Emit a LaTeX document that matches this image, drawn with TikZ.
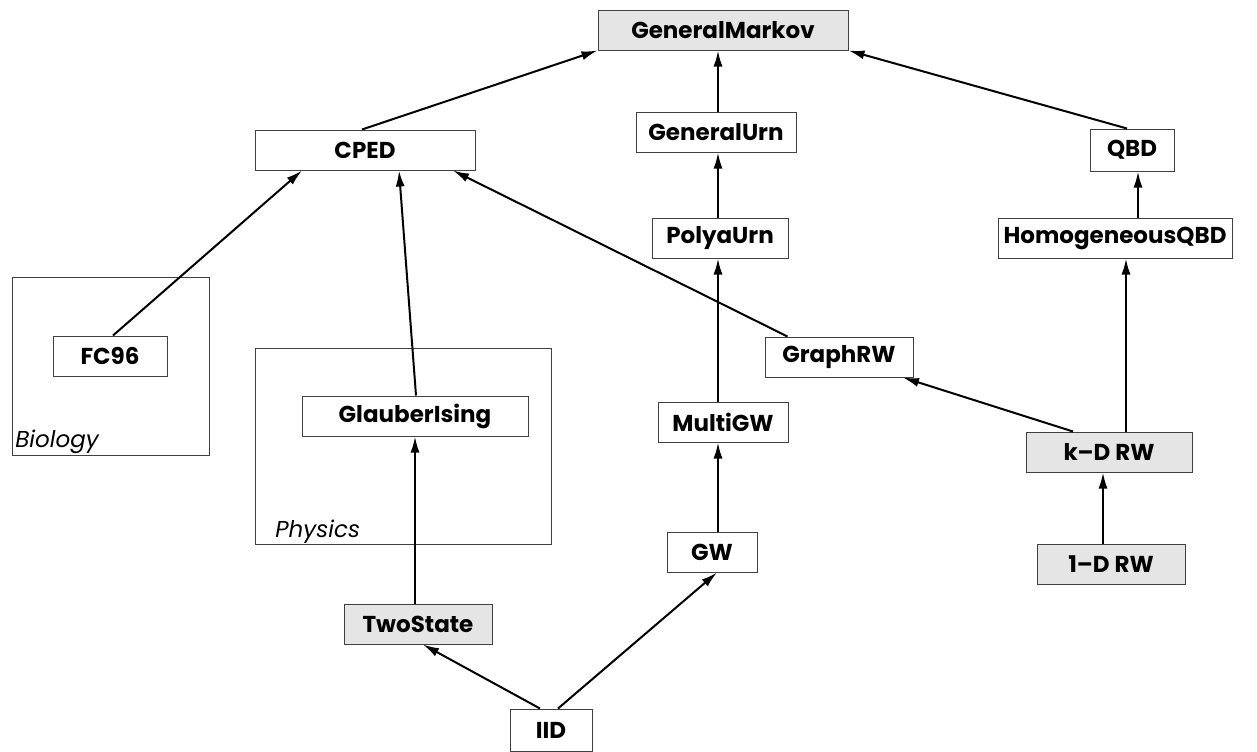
\documentclass[tikz,border=0pt]{standalone}
\usepackage{fontspec}
\setmainfont{Poppins}
\usetikzlibrary{arrows.meta,calc}

\begin{document}
\begin{tikzpicture}[x=0.5pt,y=-0.5pt,
	model/.style={draw=black!75, line width=0.5pt, minimum height=20pt, inner sep=0pt, font=\fontsize{11.5}{13}\selectfont\bfseries},
	basic/.style={model, fill=black!10},
	group/.style={draw=black!75, line width=0.5pt},
	grouplabel/.style={anchor=base west, inner sep=0pt, font=\fontsize{11.5}{13}\selectfont\itshape},
	link/.style={-{Latex[length=8pt,width=4.5pt]}, line width=1pt}]
	\useasboundingbox (0,0) rectangle (1257,751);
	
	% groups
	\draw[group] (12,277) rectangle (209,455);
	\draw[group] (255,348) rectangle (551,544);
	\node[grouplabel] (bio) at (15,447) {Biology};
	\node[grouplabel] (phys) at (275,537) {Physics};
	
	% models
	\node[basic, minimum width=125pt] (gm) at (723,30) {GeneralMarkov};
	\node[model, minimum width=110pt] (cped) at (365,150) {CPED};
	\node[model, minimum width=80pt] (gurn) at (716,132) {GeneralUrn};
	\node[model, minimum width=42pt, minimum height=21pt] (qbd) at (1132,150) {QBD};
	\node[model, minimum width=68pt] (polya) at (720,238) {PolyaUrn};
	\node[model, minimum width=117pt] (hqbd) at (1115,238) {HomogeneousQBD};
	\node[model, minimum width=57pt] (fc) at (110,356) {FC96};
	\node[model, minimum width=113pt] (glauber) at (415,416) {GlauberIsing};
	\node[model, minimum width=74pt] (graphrw) at (839,357) {GraphRW};
	\node[model, minimum width=65pt] (multigw) at (723,422) {MultiGW};
	\node[basic, minimum width=83pt] (kdrw) at (1109,452) {k--D RW};
	\node[basic, minimum width=74pt] (odrw) at (1111,564) {1--D RW};
	\node[model, minimum width=45pt] (gw) at (712,552) {GW};
	\node[basic, minimum width=74pt] (twostate) at (418,624) {TwoState};
	\node[model, minimum width=41pt, minimum height=21pt] (iid) at (551,730) {IID};
	
	% links
	\draw[link] ($(cped.north)+(-3,0)$) -- (gm.south west);
	\draw[link] ($(gurn.north)+(2,0)$) -- ($(gm.south)+(-5,0)$);
	\draw[link] ($(qbd.north)+(-5,0)$) -- (gm.south east);
	\draw[link] ($(polya.north)+(-2,0)$) -- ($(gurn.south)+(2,0)$);
	\draw[link] ($(hqbd.north)+(23,0)$) -- ($(qbd.south)+(6,0)$);
	\draw[link] ($(fc.north)+(3,0)$) -- ($(cped.south)+(-63,0)$);
	\draw[link] ($(glauber.north)+(1,0)$) -- ($(cped.south)+(34,0)$);
	\draw[link] ($(graphrw.north west)+(23,0)$) -- ($(cped.south)+(88,0)$);
	\draw[link] ($(multigw.north)+(-5,0)$) -- ($(polya.south)+(-2,0)$);
	\draw[link] ($(kdrw.north)+(17,0)$) -- ($(hqbd.south)+(11,0)$);
	\draw[link] ($(kdrw.north)+(-36,0)$) -- ($(graphrw.south)+(64,0)$);
	\draw[link] ($(odrw.north)+(-8,0)$) -- ($(kdrw.south)+(-6,0)$);
	\draw[link] ($(gw.north)+(6,0)$) -- ($(multigw.south)+(-5,0)$);
	\draw[link] ($(twostate.north)+(-3,0)$) -- (glauber.south);
	\draw[link] ($(iid.north)+(-11,0)$) -- ($(twostate.south)+(5,0)$);
	\draw[link] ($(iid.north)+(7,0)$) -- ($(gw.south)+(5,0)$);
	
\end{tikzpicture}
\end{document}
